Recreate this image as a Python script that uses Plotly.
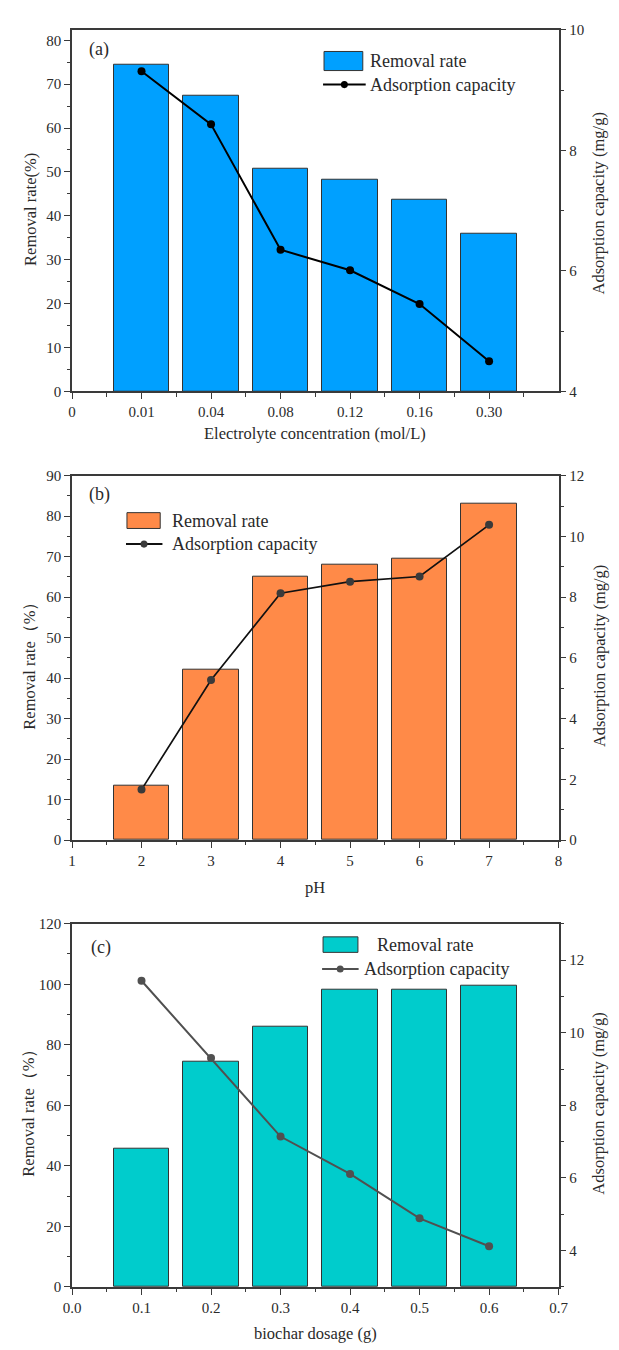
import plotly.graph_objects as go

# ---- data -------------------------------------------------------------
conc_labels = ["0.01", "0.04", "0.08", "0.12", "0.16", "0.30"]
conc_removal = [74.4, 67.3, 50.8, 48.2, 43.7, 36.0]
conc_capacity = [9.31, 8.43, 6.35, 6.01, 5.45, 4.50]

ph_values = [2, 3, 4, 5, 6, 7]
ph_removal = [13.3, 42.1, 65.1, 68.0, 69.5, 83.1]
ph_capacity = [1.66, 5.27, 8.13, 8.51, 8.68, 10.38]

dosage_values = [0.1, 0.2, 0.3, 0.4, 0.5, 0.6]
dosage_removal = [45.7, 74.5, 86.0, 98.1, 98.1, 99.5]
dosage_capacity = [11.43, 9.30, 7.14, 6.11, 4.89, 4.12]

conc_ticks = ["0"] + conc_labels
dosage_ticks = ["0.0", "0.1", "0.2", "0.3", "0.4", "0.5", "0.6", "0.7"]

# ---- page geometry ----------------------------------------------------
W, H = 619, 1350
FONT = "Liberation Serif"
AX = "#3a3a3a"
TXT = "#2a2a2a"


def px(x):
    return x / W


def py(y):
    return 1 - y / H


XDOM = [px(65), px(567)]
PANELS = {
    "a": (22, 388),
    "b": (473.3, 842),
    "c": (926.7, 1294.3),
}


def ydom(key):
    top, bot = PANELS[key]
    return [py(bot), py(top)]


BLUE = "#00A0FF"
ORANGE = "#FF8A48"
CYAN = "#00CCCC"

fig = go.Figure()

# panel (a): electrolyte concentration
conc_pos = list(range(1, len(conc_labels) + 1))
fig.add_trace(go.Bar(x=conc_pos, y=conc_removal, width=0.8,
                     marker=dict(color=BLUE, line=dict(color="#333333", width=1)),
                     xaxis="x", yaxis="y", showlegend=False))
fig.add_trace(go.Scatter(x=conc_pos, y=conc_capacity, mode="lines+markers",
                         line=dict(color="#000000", width=2),
                         marker=dict(color="#000000", size=8),
                         xaxis="x", yaxis="y2", showlegend=False))

# panel (b): pH
fig.add_trace(go.Bar(x=ph_values, y=ph_removal, width=0.8,
                     marker=dict(color=ORANGE, line=dict(color="#333333", width=1)),
                     xaxis="x2", yaxis="y3", showlegend=False))
fig.add_trace(go.Scatter(x=ph_values, y=ph_capacity, mode="lines+markers",
                         line=dict(color="#111111", width=1.7),
                         marker=dict(color="#3a3a3a", size=8),
                         xaxis="x2", yaxis="y4", showlegend=False))

# panel (c): biochar dosage
fig.add_trace(go.Bar(x=dosage_values, y=dosage_removal, width=0.08,
                     marker=dict(color=CYAN, line=dict(color="#333333", width=1)),
                     xaxis="x3", yaxis="y5", showlegend=False))
fig.add_trace(go.Scatter(x=dosage_values, y=dosage_capacity, mode="lines+markers",
                         line=dict(color="#505050", width=2),
                         marker=dict(color="#505050", size=8),
                         xaxis="x3", yaxis="y6", showlegend=False))

tickfont = dict(family=FONT, size=15, color=TXT)


def xaxis(anchor, key, rng, **kw):
    d = dict(domain=XDOM, anchor=anchor, range=rng, showline=True, linecolor=AX,
             linewidth=1.5, mirror=True, ticks="outside", ticklen=6, tickwidth=1.3,
             tickcolor=AX, showgrid=False, zeroline=False, tickfont=tickfont)
    d.update(kw)
    return d


def yaxis(anchor, key, rng, dtick, minor_dtick, side="left", overlay=None, **kw):
    d = dict(domain=ydom(key), anchor=anchor, range=rng, side=side, showline=True,
             linecolor=AX, linewidth=1.5, ticks="outside", ticklen=6, tickwidth=1.3,
             tickcolor=AX, showgrid=False, zeroline=False, tickfont=tickfont,
             dtick=dtick, tick0=0,
             minor=dict(dtick=minor_dtick, ticks="outside", ticklen=3.5,
                        tickwidth=1.3, tickcolor=AX, showgrid=False))
    if overlay:
        d["overlaying"] = overlay
    d.update(kw)
    return d


minor_x = dict(ticks="outside", ticklen=3.5, tickwidth=1.3, tickcolor=AX, showgrid=False)

fig.update_layout(
    width=W, height=H,
    margin=dict(l=0, r=0, t=0, b=0),
    paper_bgcolor="white", plot_bgcolor="white",
    bargap=0,
    xaxis=xaxis("y", "a", [0, 7], tickmode="array",
                tickvals=list(range(len(conc_ticks))), ticktext=conc_ticks,
                minor=dict(tickmode="array",
                           tickvals=[i + 0.5 for i in range(7)], **minor_x)),
    yaxis=yaxis("x", "a", [0, 82.4], 10, 5),
    yaxis2=yaxis("x", "a", [4, 10], 2, 1, side="right", overlay="y"),
    xaxis2=xaxis("y3", "b", [1, 8], dtick=1, tick0=0,
                 minor=dict(dtick=0.5, **minor_x)),
    yaxis3=yaxis("x2", "b", [0, 90], 10, 5),
    yaxis4=yaxis("x2", "b", [0, 12], 2, 1, side="right", overlay="y3"),
    xaxis3=xaxis("y5", "c", [0, 0.7], tickmode="array",
                 tickvals=[i / 10 for i in range(8)], ticktext=dosage_ticks,
                 minor=dict(dtick=0.05, tick0=0, **minor_x)),
    yaxis5=yaxis("x3", "c", [0, 120], 20, 10),
    yaxis6=yaxis("x3", "c", [3, 13], 2, 1, side="right", overlay="y5"),
)

# ---- text: axis titles, panel tags, legends ----------------------------
ann = []
shapes = []


def text(x, y, s, size, angle=0, xanchor="center"):
    ann.append(dict(x=px(x), y=py(y), xref="paper", yref="paper", text=s,
                    showarrow=False, textangle=angle, xanchor=xanchor,
                    yanchor="middle", font=dict(family=FONT, size=size, color=TXT)))


TS = 16.5
text(316, 431, "Electrolyte concentration (mol/L)", TS)
text(316, 890, "pH", TS)
text(316, 1341.5, "biochar dosage (g)", TS)
text(22, 204, "Removal rate(%)", TS, angle=-90)
text(21.5, 661.7, "Removal rate（%）", TS, angle=-90)
text(20.5, 1114, "Removal rate（%）", TS, angle=-90)
text(608.5, 198, "Adsorption capacity (mg/g)", TS, angle=-90)
text(608.5, 656, "Adsorption capacity (mg/g)", TS, angle=-90)
text(608.5, 1109, "Adsorption capacity (mg/g)", TS, angle=-90)

text(80, 42, "(a)", 18, xanchor="left")
text(80.5, 492.7, "(b)", 18, xanchor="left")
text(82.5, 950.7, "(c)", 18, xanchor="left")


def legend(box, box_text_x, y1, line, y2, text_x2, fill, line_color, dot_color, dot_x):
    bx0, bx1, by0, by1 = box
    shapes.append(dict(type="rect", xref="paper", yref="paper",
                       x0=px(bx0), x1=px(bx1), y0=py(by1), y1=py(by0),
                       fillcolor=fill, line=dict(color="#333333", width=1)))
    text(box_text_x, y1, "Removal rate", 18, xanchor="left")
    lx0, lx1 = line
    shapes.append(dict(type="line", xref="paper", yref="paper",
                       x0=px(lx0), x1=px(lx1), y0=py(y2), y1=py(y2),
                       line=dict(color=line_color, width=2)))
    r = 3.6
    shapes.append(dict(type="circle", xref="paper", yref="paper",
                       x0=px(dot_x - r), x1=px(dot_x + r), y0=py(y2 + r), y1=py(y2 - r),
                       fillcolor=dot_color, line=dict(color=dot_color, width=0)))
    text(text_x2, y2, "Adsorption capacity", 18, xanchor="left")


legend((325, 365, 44, 63.3), 370, 54, (324, 368), 77.5, 370, BLUE, "#000000", "#000000", 346)
legend((121.7, 156, 510.7, 526.7), 166.5, 519.5, (120.7, 158.3), 542.5, 166.5,
       ORANGE, "#111111", "#3a3a3a", 139.3)
legend((324, 360, 940, 955.7), 377.5, 948.5, (323, 360.7), 972.5, 364, CYAN,
       "#505050", "#505050", 341.7)

fig.update_layout(annotations=ann, shapes=shapes)

fig.write_html("out.html")
